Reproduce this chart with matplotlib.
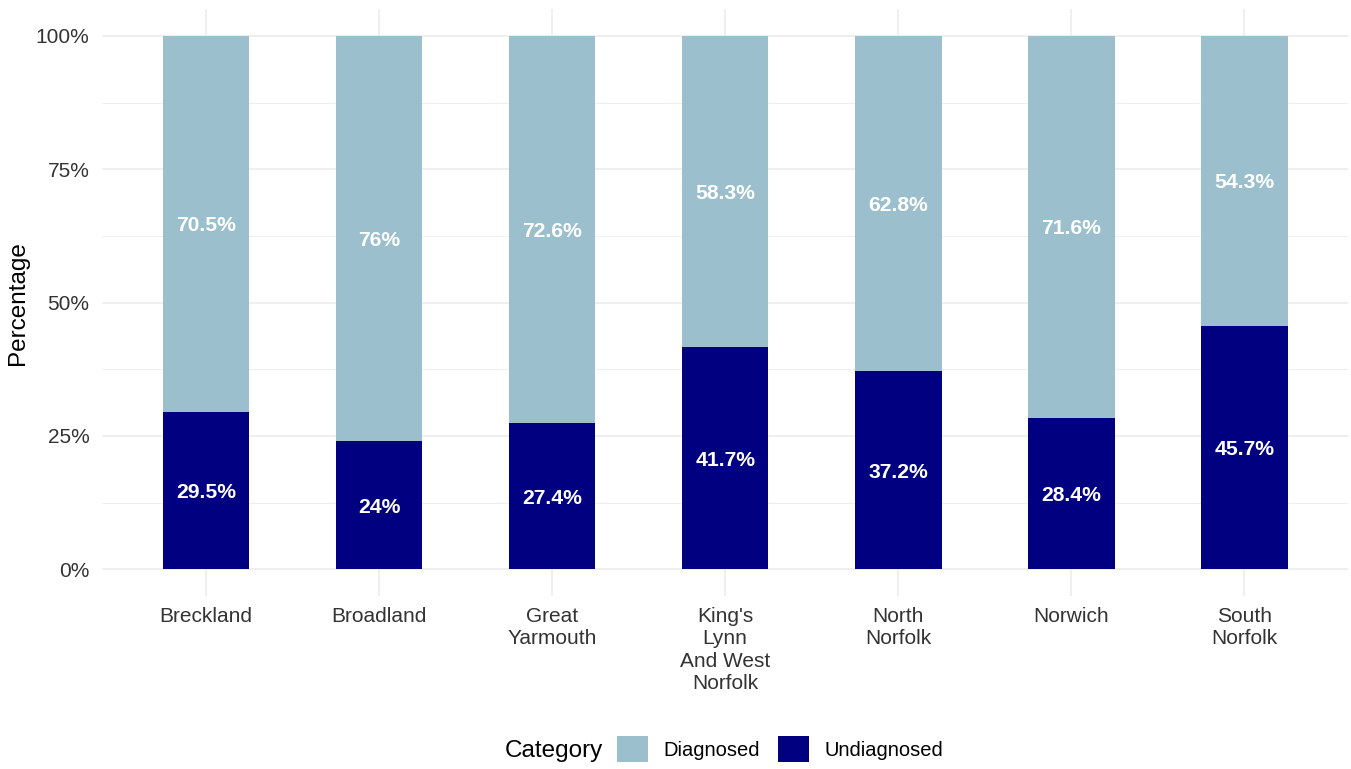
import matplotlib
matplotlib.use("Agg")
import matplotlib.pyplot as plt
from matplotlib.patches import Patch
import numpy as np

plt.rcParams['font.family'] = ['Liberation Sans', 'DejaVu Sans']

# districts and the share of each category (%)
districts = ["Breckland", "Broadland", "Great\nYarmouth", "King's\nLynn\nAnd West\nNorfolk",
             "North\nNorfolk", "Norwich", "South\nNorfolk"]
diagnosed = [70.5, 76, 72.6, 58.3, 62.8, 71.6, 54.3]
undiagnosed = [29.5, 24, 27.4, 41.7, 37.2, 28.4, 45.7]

col_diag = "#9BBFCC"
col_undiag = "#000080"
grid_col = "#EBEBEB"
text_col = "#333333"

fig = plt.figure(figsize=(13.51, 7.69), dpi=100)
ax = fig.add_axes([0.0755, 0.225, 0.9225, 0.763])

x = np.arange(len(districts))
ax.bar(x, undiagnosed, width=0.5, color=col_undiag, zorder=3)
ax.bar(x, diagnosed, width=0.5, bottom=undiagnosed, color=col_diag, zorder=3)

# labels in the middle of each stacked segment
for i in range(len(districts)):
    ax.text(x[i], undiagnosed[i] / 2, "{:g}%".format(undiagnosed[i]), ha="center",
            va="center_baseline", color="white", fontsize=15.2, fontweight="bold", zorder=4)
    ax.text(x[i], undiagnosed[i] + diagnosed[i] / 2, "{:g}%".format(diagnosed[i]), ha="center",
            va="center_baseline", color="white", fontsize=15.2, fontweight="bold", zorder=4)

ax.set_xlim(-0.6, len(districts) - 0.4)
ax.set_ylim(-5, 105)
ax.set_yticks([0, 25, 50, 75, 100])
ax.set_yticklabels(["0%", "25%", "50%", "75%", "100%"])
ax.set_yticks([12.5, 37.5, 62.5, 87.5], minor=True)
ax.set_xticks(x)
ax.set_xticklabels(districts, linespacing=1.22)

ax.grid(True, which="major", color=grid_col, linewidth=1.1, zorder=0)
ax.grid(True, which="minor", axis="y", color=grid_col, linewidth=0.6, zorder=0)
for s in ax.spines.values():
    s.set_visible(False)
ax.tick_params(axis="both", which="both", length=0, labelsize=15, labelcolor=text_col)
ax.tick_params(axis="x", pad=8)
ax.tick_params(axis="y", pad=9)

ax.set_ylabel("Percentage", fontsize=17.5, color="black", labelpad=5)

# legend along the bottom, title on the left
fig.text(505 / 1351, 1 - 751 / 769, "Category", fontsize=17.5, va="center", ha="left")
handles = [Patch(facecolor=col_diag, label="Diagnosed"),
           Patch(facecolor=col_undiag, label="Undiagnosed")]
fig.legend(handles=handles, loc="center left", bbox_to_anchor=(617 / 1351, 1 - 749 / 769),
           ncol=2, frameon=False, fontsize=14.5, handlelength=1.55, handleheight=1.55,
           handletextpad=0.75, columnspacing=0.9, borderpad=0, borderaxespad=0)

fig.savefig("out.png", dpi=100)
